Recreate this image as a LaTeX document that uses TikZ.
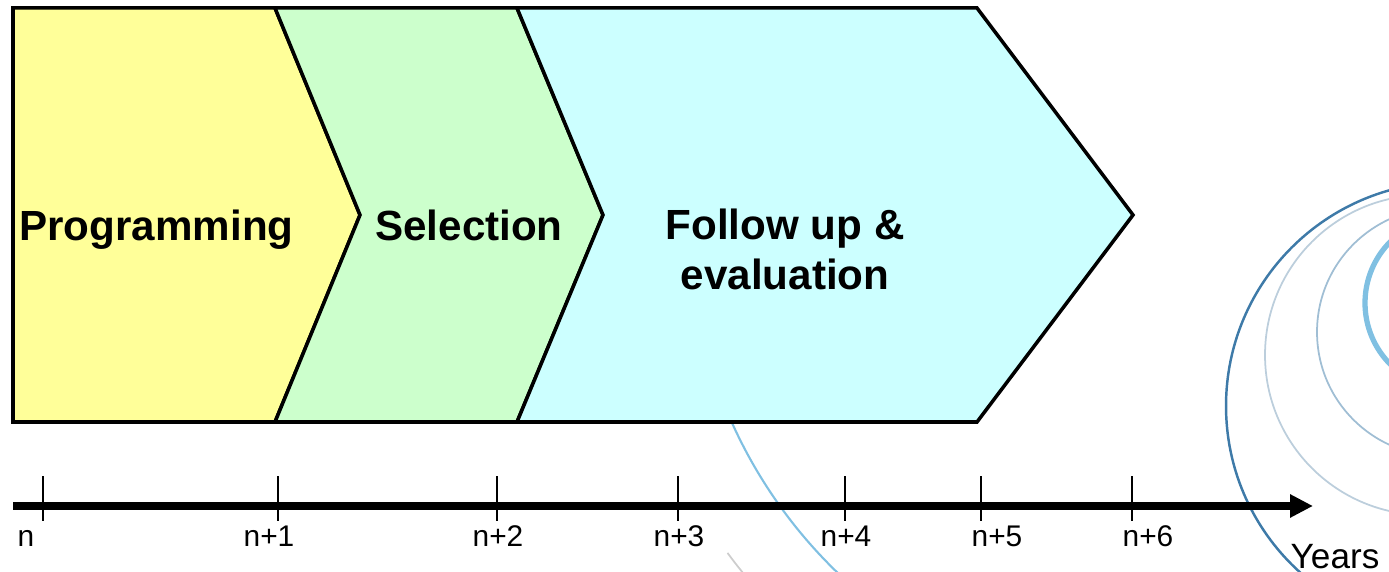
\documentclass[tikz,border=0pt]{standalone}
\usepackage{fontspec}
\setmainfont{Liberation Sans}
\usepackage{tikz}
\usetikzlibrary{arrows.meta}
\definecolor{progyellow}{HTML}{FFFF99}
\definecolor{selgreen}{HTML}{CCFFCC}
\definecolor{evalcyan}{HTML}{CCFFFF}
\definecolor{ringdark}{RGB}{62,122,168}
\definecolor{ringgrey}{RGB}{188,206,220}
\definecolor{ringmid}{RGB}{160,190,212}
\definecolor{ringlight}{RGB}{128,192,226}
\definecolor{ringpale}{RGB}{205,205,205}
\tikzset{>={Triangle[length=2.3mm, width=2.2mm]}}
\tikzset{phase/.style={draw=black, line width=1pt, line join=miter}}
\tikzset{phasetext/.style={font=\bfseries\fontsize{12}{14.5}\selectfont, anchor=base, align=center}}
\tikzset{year/.style={font=\fontsize{8.5}{10}\selectfont, anchor=base, inner sep=0pt}}
\tikzset{tick/.style={line width=0.45pt}}

\begin{document}
\begin{tikzpicture}
    \useasboundingbox(0, 0)rectangle(13.89, 5.72);
    \begin{scope}
        \clip(0, 0)rectangle(13.89, 5.72);
        \draw[ringlight, line width=0.6pt](11.75, 3.49)++(204:4.86)arc[start angle=204, end angle=227, radius=4.86];
        \draw[ringpale, line width=0.5pt](11.75, 3.49)++(216.4:5.56)arc[start angle=216.4, end angle=219.5, radius=5.56];
        \draw[ringdark, line width=0.7pt](14.50, 1.66)circle(2.24);
        \draw[ringgrey, line width=0.5pt](14.25, 2.17)circle(1.60);
        \draw[ringmid, line width=0.5pt](14.41, 2.40)circle(1.24);
        \draw[ringlight, line width=1.5pt](14.52, 2.69)circle(0.87);
    \end{scope}
    \coordinate(tl)at(0.13, 5.64);
    \coordinate(bl)at(0.13, 1.50);
    \coordinate(t1)at(2.75, 5.64);
    \coordinate(m1)at(3.60, 3.57);
    \coordinate(b1)at(2.75, 1.50);
    \coordinate(t2)at(5.17, 5.64);
    \coordinate(m2)at(6.03, 3.57);
    \coordinate(b2)at(5.17, 1.50);
    \coordinate(t3)at(9.77, 5.64);
    \coordinate(m3)at(11.33, 3.57);
    \coordinate(b3)at(9.77, 1.50);
    \filldraw[phase, fill=progyellow](tl)--(t1)--(m1)--(b1)--(bl)--cycle;
    \filldraw[phase, fill=selgreen](t1)--(t2)--(m2)--(b2)--(b1)--(m1)--cycle;
    \filldraw[phase, fill=evalcyan](t2)--(t3)--(m3)--(b3)--(b2)--(m2)--cycle;
    \node[phasetext](prog)at(1.565, 3.31){Programming};
    \node[phasetext](sel)at(4.69, 3.31){Selection};
    \node[phasetext](eval)at(7.85, 2.82){Follow up \&\\evaluation};
    % time axis
    \coordinate(s)at(0.13, 0.66);
    \coordinate(e)at(13.13, 0.66);
    \draw[->, line width=2pt](s)--(e);
    \foreach \x in {0.43, 2.78, 4.97, 6.78, 8.45, 9.81, 11.32}
        \draw[tick](\x, 0.51)--(\x, 0.96);
    \node[year](y0)at(0.26, 0.25){n};
    \node[year](y1)at(2.69, 0.25){n+1};
    \node[year](y2)at(4.98, 0.25){n+2};
    \node[year](y3)at(6.79, 0.25){n+3};
    \node[year](y4)at(8.46, 0.25){n+4};
    \node[year](y5)at(9.97, 0.25){n+5};
    \node[year](y6)at(11.48, 0.25){n+6};
    \node[year, font=\fontsize{10}{12}\selectfont](yrs)at(13.35, 0.03){Years};
\end{tikzpicture}
\end{document}
